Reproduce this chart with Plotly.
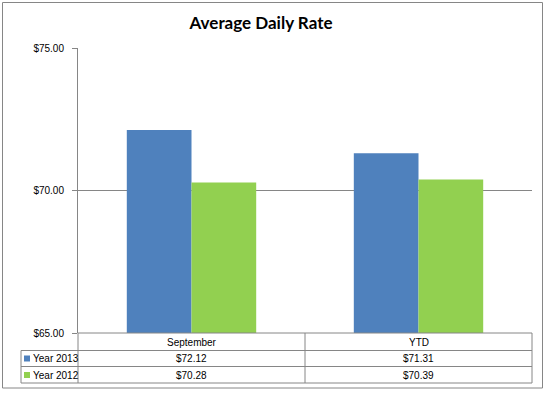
import plotly.graph_objects as go

categories = ["September", "YTD"]
series_names = ["Year 2013", "Year 2012"]
year_2013 = [72.12, 71.31]
year_2012 = [70.28, 70.39]
colors = ["#4F81BD", "#92D050"]
tick_vals = [65, 70, 75]
tick_text = ["$65.00", "$70.00", "$75.00"]

W, H = 547, 393
L, R, T, B = 78, 532, 48, 333  # plot area in pixels

def px(x):
    return (x - L) / (R - L)

def py(y):
    return (B - y) / (B - T)

FONT = "Liberation Sans"
GRID = "#868686"

fig = go.Figure()
for name, vals, col in zip(series_names, [year_2013, year_2012], colors):
    fig.add_trace(go.Bar(x=categories, y=vals, name=name, marker=dict(color=col, line=dict(width=0))))

shapes = []
# outer chart border
shapes.append(dict(type="rect", xref="paper", yref="paper", x0=px(2.5), x1=px(542.5), y0=py(2.5), y1=py(388),
                   line=dict(color=GRID, width=1), layer="below"))
# table lines
for yy, x0 in [(333, 78), (350.5, 21), (366.5, 21), (383, 21)]:
    shapes.append(dict(type="line", xref="paper", yref="paper", x0=px(x0), x1=px(532), y0=py(yy), y1=py(yy),
                       line=dict(color=GRID, width=1)))
for xx, y0 in [(21, 350.5), (78, 333), (305, 333), (532, 333)]:
    shapes.append(dict(type="line", xref="paper", yref="paper", x0=px(xx), x1=px(xx), y0=py(y0), y1=py(383),
                       line=dict(color=GRID, width=1)))

annotations = []
row_y = [358.5, 375]
for i, cat in enumerate(categories):
    annotations.append(dict(x=cat, xref="x", y=py(342), yref="paper", text=cat, showarrow=False,
                            font=dict(family=FONT, size=10, color="#000"), xanchor="center", yanchor="middle"))
    for j, vals in enumerate([year_2013, year_2012]):
        annotations.append(dict(x=cat, xref="x", y=py(row_y[j]), yref="paper", text="$%.2f" % vals[i],
                                showarrow=False, font=dict(family=FONT, size=10, color="#000"),
                                xanchor="center", yanchor="middle"))
for j, name in enumerate(series_names):
    shapes.append(dict(type="rect", xref="paper", yref="paper", x0=px(24), x1=px(30),
                       y0=py(row_y[j] + 3), y1=py(row_y[j] - 3), line=dict(width=0), fillcolor=colors[j]))
    annotations.append(dict(x=px(30.5), xref="paper", y=py(row_y[j]), yref="paper", text=name, showarrow=False,
                            font=dict(family=FONT, size=10, color="#000"), xanchor="left", yanchor="middle"))

fig.update_layout(
    width=W, height=H,
    margin=dict(l=L, r=W - R, t=T, b=H - B, pad=0),
    paper_bgcolor="white", plot_bgcolor="white",
    barmode="group", bargap=0.43, bargroupgap=0,
    showlegend=False,
    title=dict(text="<b>Average Daily Rate</b>", x=px(261), xanchor="center", xref="paper",
               y=1 - 23 / H, yanchor="middle", font=dict(family="Lato", size=17, color="#000")),
    xaxis=dict(showticklabels=False, showgrid=False, zeroline=False, showline=False, ticks=""),
    yaxis=dict(range=[65, 75], tickvals=tick_vals, ticktext=tick_text,
               showgrid=True, gridcolor=GRID, gridwidth=1, zeroline=False,
               showline=True, linecolor=GRID, linewidth=1,
               ticks="outside", ticklen=5, tickcolor=GRID, ticklabelstandoff=6,
               tickfont=dict(family=FONT, size=10, color="#000")),
    shapes=shapes, annotations=annotations,
)

fig.write_html("out.html", config={"displayModeBar": False},
               post_script="document.body.style.margin='0';document.body.style.padding='0';document.body.style.overflow='hidden';")
